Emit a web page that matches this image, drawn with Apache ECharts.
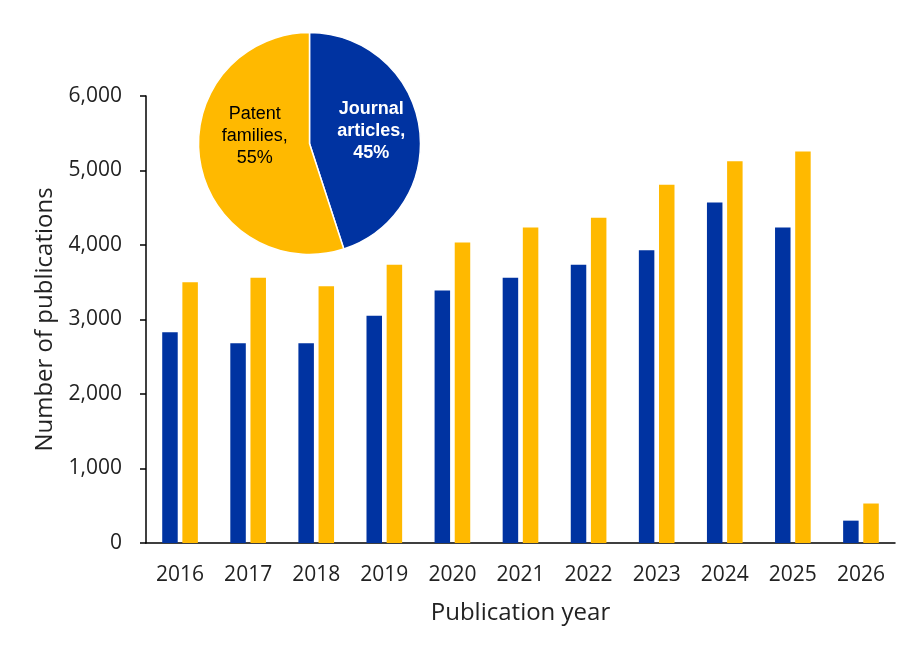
<!DOCTYPE html>
<html>
<head>
    <meta charset="utf-8">
    <title>Publications by year</title>
    <script src="https://cdn.jsdelivr.net/npm/echarts@6/dist/echarts.min.js"></script>
    <style>
        html, body { margin: 0; padding: 0; background: #fff; }
        #main { width: 919px; height: 655px; }
    </style>
</head>
<body>
<div id="main"></div>
<script>
// data
const years = ['2016', '2017', '2018', '2019', '2020', '2021', '2022', '2023', '2024', '2025', '2026'];
const journalArticles = [2830, 2680, 2680, 3050, 3390, 3560, 3735, 3930, 4570, 4235, 300];
const patentFamilies = [3500, 3560, 3445, 3735, 4035, 4235, 4365, 4810, 5125, 5255, 530];
const shareNames = ['Journal articles', 'Patent families'];
const shareValues = [45, 55];
const yTicks = { min: 0, max: 6000, interval: 1000 };

const BLUE = '#0033A1';
const YELLOW = '#FFB900';
const FONT = '"Open Sans", sans-serif';

const chart = echarts.init(document.getElementById('main'));

chart.setOption({
    animation: false,
    grid: { left: 146, right: 24, top: 96, bottom: 112 },
    xAxis: {
        type: 'category',
        data: years,
        name: 'Publication year',
        nameLocation: 'middle',
        nameGap: 58,
        nameTextStyle: { fontFamily: FONT, fontSize: 24, color: '#222' },
        axisLine: { lineStyle: { color: '#000', width: 1.5 } },
        axisTick: { alignWithLabel: true, length: 5, lineStyle: { color: '#000', width: 1.5 } },
        axisLabel: { fontFamily: FONT, fontSize: 21, color: '#222', margin: 22 }
    },
    yAxis: {
        type: 'value',
        min: yTicks.min,
        max: yTicks.max,
        interval: yTicks.interval,
        name: 'Number of publications',
        nameLocation: 'middle',
        nameGap: 89,
        nameTextStyle: { fontFamily: FONT, fontSize: 24, color: '#222' },
        axisLine: { show: true, lineStyle: { color: '#000', width: 1.5 } },
        axisTick: { show: true, length: 6, lineStyle: { color: '#000', width: 1.5 } },
        splitLine: { show: false },
        axisLabel: {
            fontFamily: FONT, fontSize: 21, color: '#222', margin: 24,
            formatter: v => v.toLocaleString('en-US')
        }
    },
    series: [
        {
            name: 'Journal articles',
            type: 'bar',
            data: journalArticles,
            barWidth: 15.5,
            barGap: '30%',
            itemStyle: { color: BLUE }
        },
        {
            name: 'Patent families',
            type: 'bar',
            data: patentFamilies,
            barWidth: 15.5,
            itemStyle: { color: YELLOW }
        },
        {
            type: 'pie',
            center: [309.5, 143.5],
            radius: 111,
            startAngle: 90,
            clockwise: true,
            itemStyle: { borderColor: '#fff', borderWidth: 1.5 },
            labelLine: { show: false },
            data: [
                {
                    name: shareNames[0], value: shareValues[0],
                    itemStyle: { color: BLUE },
                    label: {
                        position: 'inside', offset: [4, -3],
                        color: '#fff', fontWeight: 'bold'
                    }
                },
                {
                    name: shareNames[1], value: shareValues[1],
                    itemStyle: { color: YELLOW },
                    label: {
                        position: 'inside', offset: [3, -17],
                        color: '#000', fontWeight: 'normal'
                    }
                }
            ],
            label: {
                fontFamily: '"Liberation Sans", Arial, sans-serif',
                fontSize: 18,
                lineHeight: 22,
                align: 'center',
                formatter: p => p.name.replace(' ', '\n') + ',\n' + p.value + '%'
            },
            emphasis: { disabled: true }
        }
    ]
});
</script>
</body>
</html>
